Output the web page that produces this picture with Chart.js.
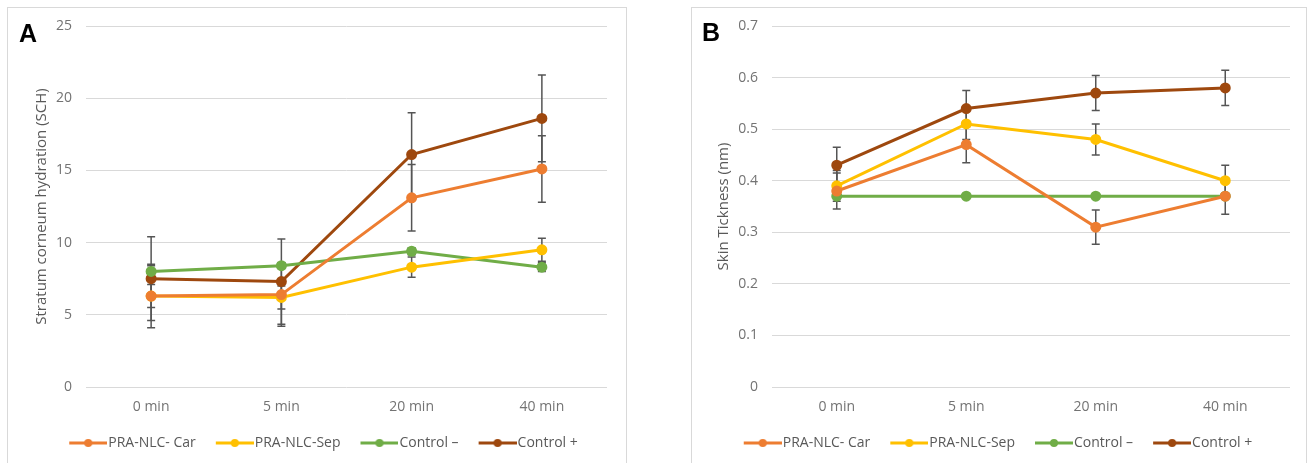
<!DOCTYPE html>
<html>
<head>
<meta charset="utf-8">
<script src="https://cdn.jsdelivr.net/npm/chart.js@4.4.1/dist/chart.umd.min.js"></script>
<style>
  body { margin: 0; background: #fff; overflow: hidden; width: 1307px; height: 463px; position: relative; }
  .panel { position: absolute; border: 1px solid #d9d9d9; background: #fff; }
  .letter { position: absolute; font: bold 25px "Liberation Sans", Arial, sans-serif; color: #000; }
  canvas { position: absolute; }
</style>
</head>
<body>
<div class="panel" style="left:7px; top:7px; width:618px; height:470px;"></div>
<div class="panel" style="left:691px; top:7px; width:614px; height:470px;"></div>
<canvas id="chartA" width="617" height="452" style="left:8px; top:8px;"></canvas>
<canvas id="chartB" width="614" height="452" style="left:692px; top:8px;"></canvas>
<div class="letter" style="left:19px; top:19px;">A</div>
<div class="letter" style="left:702px; top:18px;">B</div>
<script>
// Data
const timeLabels = ['0 min', '5 min', '20 min', '40 min'];
const seriesNames = ['PRA-NLC- Car', 'PRA-NLC-Sep', 'Control \u2013', 'Control +'];
const seriesColors = ['#ED7D31', '#FFC000', '#70AD47', '#9E480E'];

// Panel A - stratum corneum hydration
const hydCar = [6.3, 6.4, 13.1, 15.1];
const hydSep = [6.3, 6.2, 8.3, 9.5];
const hydNeg = [8.0, 8.4, 9.4, 8.3];
const hydPos = [7.5, 7.3, 16.1, 18.6];
const hydCarErr = [2.2, 2.2, 2.3, 2.3];
const hydSepErr = [0.8, 0.8, 0.7, 0.8];
const hydNegErr = [0.4, 0.2, 0.25, 0.3];
const hydPosErr = [2.9, 2.95, 2.9, 3.0];

// Panel B - skin thickness
const thkCar = [0.38, 0.47, 0.31, 0.37];
const thkSep = [0.39, 0.51, 0.48, 0.40];
const thkNeg = [0.37, 0.37, 0.37, 0.37];
const thkPos = [0.43, 0.54, 0.57, 0.58];
const thkCarErr = [0.035, 0.035, 0.033, 0.035];
const thkSepErr = [0.03, 0.03, 0.03, 0.03];
const thkNegErr = [0, 0, 0, 0];
const thkPosErr = [0.035, 0.035, 0.034, 0.034];

const fontFamily = '"Open Sans", sans-serif';
const textGray = '#737373';

// legend icons: line with a dot in the middle, like Excel
// (drawn in the right 38px of a 44px canvas so the text sits close to it)
function makeIcon(color) {
    const c = document.createElement('canvas');
    c.width = 44; c.height = 10;
    const ctx = c.getContext('2d');
    ctx.strokeStyle = color;
    ctx.lineWidth = 3;
    ctx.beginPath();
    ctx.moveTo(6, 5); ctx.lineTo(44, 5);
    ctx.stroke();
    ctx.fillStyle = color;
    ctx.beginPath();
    ctx.arc(25, 5, 4, 0, Math.PI * 2);
    ctx.fill();
    return c;
}
const legendIcons = seriesColors.map(makeIcon);

// error bars drawn under the lines
const errorBars = {
    id: 'errorBars',
    beforeDatasetsDraw(chart) {
        const ctx = chart.ctx;
        const y = chart.scales.y;
        ctx.save();
        ctx.strokeStyle = '#555';
        ctx.lineWidth = 1.5;
        chart.data.datasets.forEach((ds, i) => {
            const meta = chart.getDatasetMeta(i);
            meta.data.forEach((pt, j) => {
                const e = ds.errors[j];
                if (!e) return;
                const top = y.getPixelForValue(ds.data[j] + e);
                const bot = y.getPixelForValue(ds.data[j] - e);
                ctx.beginPath();
                ctx.moveTo(pt.x, top); ctx.lineTo(pt.x, bot);
                ctx.moveTo(pt.x - 4, top); ctx.lineTo(pt.x + 4, top);
                ctx.moveTo(pt.x - 4, bot); ctx.lineTo(pt.x + 4, bot);
                ctx.stroke();
            });
        });
        ctx.restore();
    }
};

function makeDatasets(values, errors) {
    return values.map((v, i) => ({
        label: seriesNames[i],
        data: v,
        errors: errors[i],
        borderColor: seriesColors[i],
        backgroundColor: seriesColors[i],
        borderWidth: 3,
        pointRadius: 4,
        pointHoverRadius: 4,
        tension: 0
    }));
}

// padLeft shifts the centred legend; yWidth + padLeft fixes the plot's left edge
function makeChart(id, datasets, yMax, yStep, yTitle, padLeft, yWidth, titlePad, padRight) {
    return new Chart(document.getElementById(id), {
        type: 'line',
        data: { labels: timeLabels, datasets: datasets },
        options: {
            responsive: false,
            animation: false,
            events: [],
            layout: { padding: { left: padLeft, right: padRight, top: 18, bottom: 0 } },
            scales: {
                x: {
                    offset: true,
                    grid: { display: false, drawTicks: false },
                    border: { display: false },
                    ticks: { color: textGray, font: { family: fontFamily, size: 14 }, padding: 12 },
                    afterFit(scale) { scale.height = 29; }
                },
                y: {
                    min: 0,
                    max: yMax,
                    ticks: { stepSize: yStep, color: textGray, font: { family: fontFamily, size: 14 }, padding: 14 },
                    grid: { color: '#d9d9d9', lineWidth: 1, drawTicks: false },
                    border: { display: false },
                    title: {
                        display: true,
                        text: yTitle,
                        color: '#595959',
                        font: { family: fontFamily, size: 15 },
                        padding: { top: titlePad, bottom: 0 }
                    },
                    afterFit(scale) {
                        scale.width = yWidth;
                        scale.paddingTop = 0;
                        scale.paddingBottom = 0;
                    }
                }
            },
            plugins: {
                legend: {
                    position: 'bottom',
                    labels: {
                        usePointStyle: true,
                        pointStyleWidth: 32,
                        padding: 20,
                        color: '#595959',
                        font: { family: fontFamily, size: 14 },
                        generateLabels(chart) {
                            const items = Chart.defaults.plugins.legend.labels.generateLabels(chart);
                            items.forEach((it, i) => { it.pointStyle = legendIcons[i]; });
                            return items;
                        }
                    }
                },
                tooltip: { enabled: false }
            }
        },
        plugins: [errorBars]
    });
}

makeChart('chartA',
    makeDatasets([hydCar, hydSep, hydNeg, hydPos], [hydCarErr, hydSepErr, hydNegErr, hydPosErr]),
    25, 5, 'Stratum corneum hydration (SCH)', 32, 46, -7, 18);

makeChart('chartB',
    makeDatasets([thkCar, thkSep, thkNeg, thkPos], [thkCarErr, thkSepErr, thkNegErr, thkPosErr]),
    0.7, 0.1, 'Skin Tickness (nm)', 14, 66, 9, 16);
</script>
</body>
</html>
